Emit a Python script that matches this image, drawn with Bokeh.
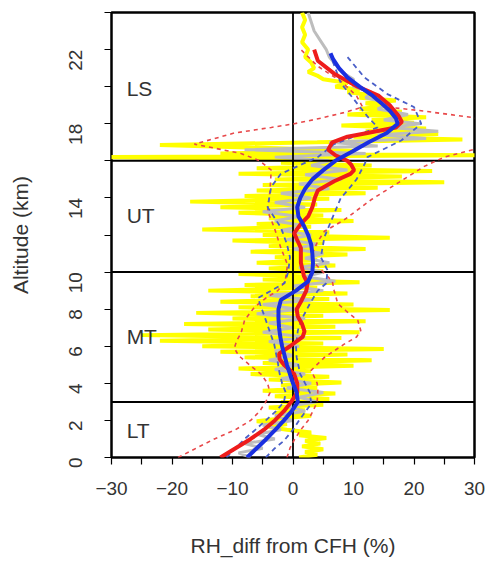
import math
from bokeh.plotting import figure
from bokeh.models import Range1d, FixedTicker, Span, Label
from bokeh.embed import file_html
from bokeh.resources import INLINE

# ---------------- data ----------------
layer_names = ["LS", "UT", "MT", "LT"]
layer_label_alt = [19.9, 13.05, 6.5, 1.45]
layer_bounds = [3, 10, 16]

x_ticks = [-30, -25, -20, -15, -10, -5, 0, 5, 10, 15, 20, 25, 30]
x_tick_labels = ["−30", "", "−20", "", "−10", "", "0", "", "10", "", "20", "", "30"]
y_ticks = [0, 2, 4, 6, 8, 10, 12, 14, 16, 18, 20, 22, 24]
y_tick_labels = ["0", "2", "4", "6", "8", "10", "", "14", "", "18", "", "22", ""]

# thick blue profile
blue_alt = [0.0, 0.5, 1.0, 1.5, 2.0, 2.5, 3.0, 3.5, 4.0, 4.5, 5.0, 5.5, 6.0, 6.5, 7.0, 7.5,
            8.0, 8.5, 9.0, 9.5, 10.0, 10.5, 11.0, 11.5, 12.0, 12.5, 13.0, 13.5, 14.0, 14.5,
            15.0, 15.5, 16.0, 16.5, 17.0, 17.5, 18.0, 18.3, 18.7, 19.0, 19.5, 20.0, 20.5,
            21.0, 21.5, 21.8]
blue_x = [-7.6, -6.0, -4.4, -2.9, -1.5, -0.2, 0.8, 0.6, 0.0, -0.5, -1.0, -1.4, -1.8, -2.1,
          -2.3, -2.4, -2.4, -2.0, 0.5, 2.5, 3.2, 3.3, 3.2, 3.0, 2.5, 1.8, 0.9, 0.7, 1.2, 2.0,
          3.2, 5.0, 7.0, 9.8, 12.5, 15.5, 17.3, 17.0, 16.0, 15.0, 13.2, 11.0, 9.0, 7.6, 6.6, 6.2]

# thick red profile
red_alt = [0.0, 0.5, 1.0, 1.5, 2.0, 2.5, 3.0, 3.5, 4.0, 4.5, 5.0, 5.3, 5.6, 6.0, 6.5, 6.8,
           7.2, 7.6, 8.0, 8.4, 9.0, 9.4, 9.8, 10.5, 11.3, 11.8, 12.1, 12.6, 13.0, 13.5, 14.0,
           14.4, 14.9, 15.3, 15.5, 15.8, 16.0, 16.3, 16.6, 17.0, 17.3, 17.5, 17.8, 18.1,
           18.4, 19.0, 19.5, 20.0, 20.7, 21.4, 22.0]
red_x = [-12.0, -9.5, -7.0, -4.8, -3.0, -1.5, -0.3, 0.7, 0.7, 0.2, -1.5, -2.2, -2.3, -0.5,
         1.6, 1.9, 1.5, 0.8, 0.6, 1.3, 2.2, 2.4, 1.8, 1.3, 1.3, 0.6, 0.2, 1.3, 2.5, 3.2, 3.6,
         4.1, 6.8, 9.5, 10.1, 9.6, 9.0, 7.0, 5.8, 6.5, 9.0, 12.3, 17.0, 18.0, 17.5, 16.0,
         14.2, 10.7, 6.8, 4.1, 3.5]

# dashed red envelopes
red_lo_alt = [0.0, 0.5, 1.0, 1.5, 2.0, 2.5, 3.0, 3.5, 4.0, 4.5, 5.0, 5.5, 5.9, 6.3, 6.7,
              7.4, 8.1, 8.6, 9.0, 9.5, 10.4, 11.3, 12.4, 13.3, 14.4, 15.5, 16.0, 16.4, 16.9,
              17.2, 17.5, 17.8, 18.0, 18.3, 18.6, 18.9, 19.5, 20.3, 21.1, 22.0]
red_lo_x = [-19.0, -16.0, -13.0, -9.5, -7.0, -5.5, -4.5, -3.8, -4.2, -5.3, -7.2, -9.0, -9.7,
            -9.3, -8.6, -8.0, -6.4, -4.5, -2.5, -1.3, -0.9, -2.0, -3.1, -4.2, -3.8, -3.6,
            -5.5, -8.6, -16.3, -13.0, -9.7, -3.6, 0.2, 4.6, 8.4, 11.5, 10.5, 7.9, 4.1, 1.3]
red_hi_alt = [0.0, 0.5, 1.0, 1.5, 2.0, 2.5, 3.0, 3.6, 4.0, 4.7, 5.4, 6.1, 6.5, 6.85, 7.4,
              7.9, 8.3, 9.0, 9.5, 10.0, 10.5, 11.0, 11.6, 12.2, 12.8, 13.9, 14.8, 15.7, 16.2,
              16.7, float("nan"), 18.2, 18.35, 18.7, 18.9]
red_hi_x = [-1.0, -0.5, 0.3, 1.3, 2.5, 3.3, 4.0, 4.1, 4.0, 3.0, 5.2, 8.4, 10.5, 11.2, 10.7,
            8.8, 7.4, 6.8, 6.5, 5.0, 3.5, 3.2, 4.0, 5.2, 8.4, 12.9, 17.3, 21.7, 25.0, 31.0,
            float("nan"), 32.0, 29.4, 21.2, 15.6]

# dashed blue envelopes
blue_lo_alt = [0.0, 0.5, 1.0, 1.5, 2.0, 2.5, 3.0, 3.5, 4.0, 4.5, 5.1, 6.1, 7.6, 8.6, 9.4,
               10.0, 10.8, 11.5, 12.4, 13.5, 14.6, 15.3, 16.2, 16.9, 17.8, 18.4, 19.3, 20.2,
               21.6]
blue_lo_x = [-11.0, -9.5, -8.0, -6.2, -4.5, -2.8, -1.5, -1.2, -1.8, -2.2, -2.5, -3.1, -4.7,
             -5.8, -1.4, -0.8, -0.5, -1.0, -2.0, -4.2, -3.6, -2.0, 4.1, 6.8, 14.0, 12.3,
             10.1, 7.9, 6.3]
blue_hi_alt = [0.0, 0.5, 0.9, 1.5, 2.0, 2.4, 2.9, 3.5, 4.0, 4.5, 5.4, 6.0, 6.85, 7.5, 8.3,
               9.0, 9.4, 10.1, 10.8, 11.9, 13.3, 14.0, 14.4, 15.0, 15.8, 16.2, 17.1, 18.0,
               18.9, 19.6, 20.5, 21.6]
blue_hi_x = [-4.5, -3.0, -1.5, 0.0, 1.0, 1.9, 3.0, 2.8, 2.0, 1.2, 0.6, 0.5, 0.8, 1.5, 2.8,
             4.1, 5.5, 5.7, 4.6, 5.2, 7.0, 7.9, 9.0, 10.5, 11.8, 12.3, 17.9, 21.2, 20.0,
             15.6, 11.8, 9.0]

# grey noisy profile
grey_alt = [0.0, 0.25, 0.5, 0.75, 1.0, 1.25, 1.5, 1.75, 2.0, 2.25, 2.5, 2.75, 3.0, 3.25,
            3.5, 3.75, 4.0, 4.25, 4.5, 4.75, 5.0, 5.25, 5.5, 5.75, 6.0, 6.25, 6.5, 6.75,
            7.0, 7.25, 7.5, 7.75, 8.0, 8.25, 8.5, 8.75, 9.0, 9.25, 9.5, 9.75, 10.0, 10.25,
            10.5, 10.75, 11.0, 11.25, 11.5, 11.75, 12.0, 12.25, 12.5, 12.75, 13.0, 13.25,
            13.5, 13.75, 14.0, 14.25, 14.5, 14.75, 15.0, 15.25, 15.5, 15.75, 16.0, 16.2,
            16.4, 16.6, 16.8, 17.0, 17.2, 17.4, 17.6, 17.8, 18.0, 18.2, 18.5, 18.8, 19.1,
            19.4, 19.7, 20.0, 20.4, 20.8, 21.2, 21.6, 22.0, 22.5, 23.0, 23.5, 24.0]
grey_x = [-7, -9, -5, -8, -3, -6, -2, -5, 0, -3, 2, -1, 4, 1, 5, -1, 3, -2, 2, -3, 1, -4,
          0, -3, 1, -4, 2, -5, 0, -4, 2, -6, 1, -5, 3, -4, 5, 0, 7, 2, 5, 1, 6, 2, 5, 0, 4,
          -1, 3, -2, 2, -3, 1, -5, 2, -3, 3, -2, 6, 1, 8, 2, 9, 3, 6, -3, 12, -8, 14, 6, 22,
          14, 24, 16, 21, 15, 19, 14, 16, 12, 13, 10, 10, 8, 7, 6, 5.5, 4.5, 3.5, 3.0, 2.5]

# yellow noisy profile
yellow_alt = [0.0, 0.15, 0.3, 0.45, 0.6, 0.75, 0.9, 1.05, 1.2, 1.35, 1.5, 1.65, 1.8, 1.95,
              2.1, 2.25, 2.4, 2.55, 2.7, 2.85, 3.0, 3.15, 3.3, 3.45, 3.6, 3.75, 3.9, 4.05,
              4.2, 4.35, 4.5, 4.65, 4.8, 4.95, 5.1, 5.25, 5.4, 5.55, 5.7, 5.85, 6.0, 6.15,
              6.3, 6.45, 6.6, 6.75, 6.9, 7.05, 7.2, 7.35, 7.5, 7.65, 7.8, 7.95, 8.1, 8.25,
              8.4, 8.55, 8.7, 8.85, 9.0, 9.15, 9.3, 9.45, 9.6, 9.75, 9.9, 10.05, 10.2, 10.35,
              10.5, 10.65, 10.8, 10.95, 11.1, 11.25, 11.4, 11.55, 11.7, 11.85, 12.0, 12.15,
              12.3, 12.45, 12.6, 12.75, 12.9, 13.05, 13.2, 13.35, 13.5, 13.65, 13.8, 13.95,
              14.1, 14.25, 14.4, 14.55, 14.7, 14.85, 15.0, 15.15, 15.3, 15.45, 15.6, 15.75,
              15.9, 16.05, 16.2, 16.3, 16.4, 16.55, 16.7, 16.85, 17.0, 17.15, 17.3, 17.45,
              17.6, 17.75, 17.9, 18.05, 18.2, 18.35, 18.5, 18.65, 18.8, 18.95, 19.1, 19.25,
              19.4, 19.55, 19.7, 19.85, 20.0, 20.2, 20.4, 20.6, 20.8, 21.0, 21.3, 21.6, 22.0,
              22.4, 22.8, 23.2, 23.6, 24.0]
yellow_x = [1, 4, 2, 5, 1.5, 4.5, 2, 5.5, 1, 3, -1, -4, -1, -6, -2, 3, -3, 2, -4, 5, -2, 6,
            -3, 7, -5, 4, -2, 8, -4, 6, -7, 3, -9, 10, -5, 13, -8, 9, -12, 15, -15, 5, -22,
            8, -25, 11, -14, 7, -18, 12, -10, 5, -16, 16, -9, 10, -12, 6, -7, 9, -14, 4, -8,
            11, -5, 3, -9, 5, -4, 7, -6, 4, -3, 9, -7, 12, -4, 5, -10, 16, -5, 6, -15, 3, -6,
            10, -4, 5, -9, 8, -12, 4, -17, 6, -8, 12, -6, 14, -5, 25, -3, 18, -9, 23, -6, 13,
            -2, 8, -32, 32, -12, 10, -5, -22, 4, 28, 10, 24, 12, 22, 8, 20, 13, 22, 9, 18, 11,
            15, 12, 17, 11, 13, 9, 11, 7, 9, 5, 4, 2.5, 3.5, 3, 2, 2.5, 1.5, 2, 1.5, 2, 1.5]

# ---------------- figure ----------------
TXT = "#333333"
FONT = "Liberation Sans"

p = figure(width=489, height=562, output_backend="svg", toolbar_location=None,
           x_range=Range1d(-30, 30), y_range=Range1d(0, 24),
           min_border_left=111, min_border_right=15, min_border_top=12,
           min_border_bottom=105)
p.grid.visible = False
p.outline_line_color = "black"
p.outline_line_width = 2.5
p.background_fill_color = "white"
p.border_fill_color = "white"

p.xaxis.ticker = FixedTicker(ticks=x_ticks)
p.xaxis.major_label_overrides = {t: s for t, s in zip(x_ticks, x_tick_labels)}
p.yaxis.ticker = FixedTicker(ticks=y_ticks)
p.yaxis.major_label_overrides = {t: s for t, s in zip(y_ticks, y_tick_labels)}
p.yaxis.major_label_orientation = math.pi / 2

for ax in (p.xaxis[0], p.yaxis[0]):
    ax.axis_line_color = None
    ax.major_tick_line_color = "black"
    ax.major_tick_line_width = 1.2
    ax.major_tick_out = 7
    ax.major_tick_in = 0
    ax.minor_tick_line_color = None
    ax.major_label_text_font = FONT
    ax.major_label_text_font_size = "19px"
    ax.major_label_text_color = TXT
    ax.axis_label_text_font = FONT
    ax.axis_label_text_font_size = "21px"
    ax.axis_label_text_font_style = "normal"
    ax.axis_label_text_color = TXT

p.xaxis.axis_label = "RH_diff from CFH (%)"
p.yaxis.axis_label = "Altitude (km)"
p.xaxis.major_label_standoff = 17
p.xaxis.axis_label_standoff = 36
p.yaxis.major_label_standoff = 29
p.yaxis.axis_label_standoff = 28

# noisy background profiles
p.line(yellow_x, yellow_alt, line_color="#ffff00", line_width=4, level="underlay")
p.line(grey_x, grey_alt, line_color="#bdbdbd", line_width=3, level="underlay")

# layer boundaries and zero line
for b in layer_bounds:
    p.add_layout(Span(location=b, dimension="width", line_color="black",
                      line_width=2, level="underlay"))
p.add_layout(Span(location=0, dimension="height", line_color="black",
                  line_width=1.8, level="underlay"))

# envelopes
p.line(red_lo_x, red_lo_alt, line_color="#e8484a", line_width=1.6, line_dash="4 4")
p.line(red_hi_x, red_hi_alt, line_color="#e8484a", line_width=1.6, line_dash="4 4")
p.line(blue_lo_x, blue_lo_alt, line_color="#4a5fc8", line_width=1.8, line_dash="5 4")
p.line(blue_hi_x, blue_hi_alt, line_color="#4a5fc8", line_width=1.8, line_dash="5 4")

# mean profiles
p.line(red_x, red_alt, line_color="#ee1c1c", line_width=4)
p.line(blue_x, blue_alt, line_color="#1a2fe0", line_width=4)

# layer names
for name, a in zip(layer_names, layer_label_alt):
    p.add_layout(Label(x=-27.5, y=a, text=name, text_font=FONT, text_font_size="21px",
                       text_color=TXT, text_baseline="middle", text_align="left"))

open("out.html", "w").write(file_html(p, INLINE))
